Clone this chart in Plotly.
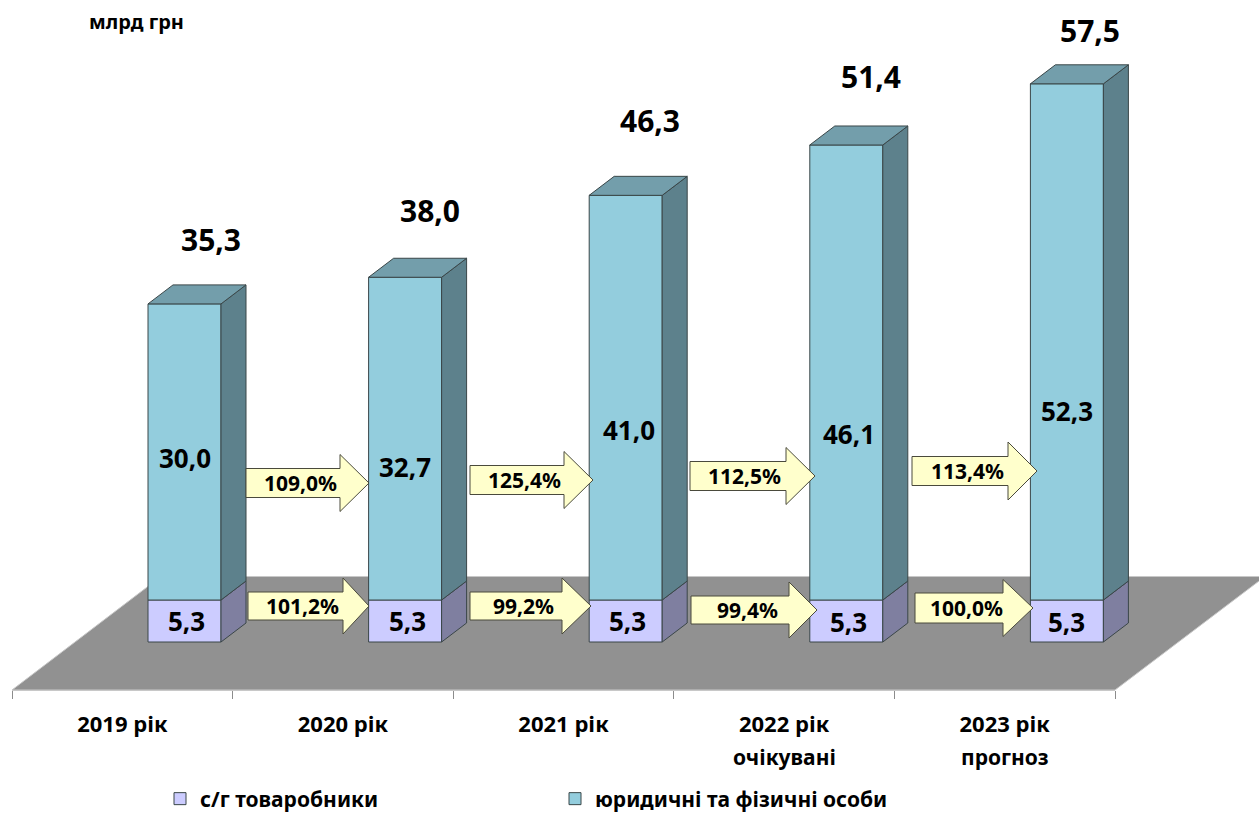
import plotly.graph_objects as go

W, H = 1259, 814
FONT = "Noto Sans"

# ---- data ----
categories = ["2019 рік", "2020 рік", "2021 рік", "2022 рік", "2023 рік"]
sublabels = ["", "", "", "очікувані", "прогноз"]
producers = [5.3, 5.3, 5.3, 5.3, 5.3]
entities = [30.0, 32.7, 41.0, 46.1, 52.3]
totals = [35.3, 38.0, 46.3, 51.4, 57.5]
growth_entities = ["109,0%", "125,4%", "112,5%", "113,4%"]
growth_producers = ["101,2%", "99,2%", "99,4%", "100,0%"]
series_names = ["с/г товаробники", "юридичні та фізичні особи"]
unit_label = "млрд грн"

# ---- styles / layout geometry (pixels) ----
PX_PER_CAT, PX_CENTER0, BAR_PX = 220.6, 184.5, 73
PX_PER_UNIT, PX_SPLIT = 9.87, 600
DEPTH_X, DEPTH_Y = 25, 19
AXIS_FLOOR = producers[0] - (642 - PX_SPLIT) / PX_PER_UNIT  # value at the bars' foot

C_BLUE, C_BLUE_SIDE, C_BLUE_TOP = "#93CDDD", "#5D818C", "#739EAB"
C_PUR, C_PUR_SIDE = "#CCCCFF", "#7F7FA0"
C_EDGE = "#3A4648"

total_shift = [(26, 64), (25, 67), (24, 75), (25, 68), (23, 53)]
entity_shift = [(0, -6), (0, -28), (3, -32), (3, -61), (0, -69)]
producer_shift = [(2, 0), (2, 0), (2, 0), (2, -1), (0, -1)]

# x0, tip, head base, centre y, shaft half, head half
arrows_upper = [(246, 369, 340, 483, 14.5, 28.5), (470, 593, 564, 480, 14.5, 28.5),
                (690, 815, 786, 476, 14.5, 28.5), (912, 1037, 1008, 471, 14.5, 29)]
arrows_lower = [(248, 369, 343, 606, 14, 28), (470, 591, 562, 606, 14, 28),
                (691, 817, 789, 610, 14, 28), (915, 1033, 1003, 608, 15, 28.5)]

dx = DEPTH_X / PX_PER_CAT
dy = DEPTH_Y / PX_PER_UNIT
hw = BAR_PX / PX_PER_CAT / 2
xs = list(range(len(categories)))
xrange_ = [-PX_CENTER0 / PX_PER_CAT, (W - PX_CENTER0) / PX_PER_CAT]
yref_split = producers[0]
yrange = [yref_split - (H - PX_SPLIT) / PX_PER_UNIT, yref_split + PX_SPLIT / PX_PER_UNIT]


def poly(points_per_bar):
    px, py = [], []
    for pts in points_per_bar:
        for a, b in pts + [pts[0]]:
            px.append(a)
            py.append(b)
        px.append(None)
        py.append(None)
    return px, py


side_pur, side_blue, top_blue = [], [], []
for i in xs:
    lo, mid, hi = AXIS_FLOOR, producers[i], producers[i] + entities[i]
    r = i + hw
    l = i - hw
    side_pur.append([(r, lo), (r + dx, lo + dy), (r + dx, mid + dy), (r, mid)])
    side_blue.append([(r, mid), (r + dx, mid + dy), (r + dx, hi + dy), (r, hi)])
    top_blue.append([(l, hi), (l + dx, hi + dy), (r + dx, hi + dy), (r, hi)])

fig = go.Figure()
for pts, col in ((side_pur, C_PUR_SIDE), (side_blue, C_BLUE_SIDE), (top_blue, C_BLUE_TOP)):
    px, py = poly(pts)
    fig.add_trace(go.Scatter(x=px, y=py, mode="lines", fill="toself", fillcolor=col,
                             line=dict(color=C_EDGE, width=1), showlegend=False, hoverinfo="skip"))

fig.add_trace(go.Bar(x=xs, y=[p - AXIS_FLOOR for p in producers], base=[AXIS_FLOOR] * 5,
                     width=2 * hw, name=series_names[0], marker=dict(color=C_PUR, line=dict(color=C_EDGE, width=1)),
                     cliponaxis=False))
fig.add_trace(go.Bar(x=xs, y=entities, base=producers, width=2 * hw, name=series_names[1],
                     marker=dict(color=C_BLUE, line=dict(color=C_EDGE, width=1)), cliponaxis=False))
# carries the category axis along the front edge of the floor
fig.add_trace(go.Scatter(x=categories, y=totals, xaxis="x2", yaxis="y", mode="markers",
                         marker=dict(opacity=0), showlegend=False, hoverinfo="skip"))


def fx(p):
    return p / W


def fy(p):
    return 1 - p / H


shapes = [dict(type="path", xref="paper", yref="paper", layer="below",
               path=f"M{fx(12)},{fy(690)} L{fx(1115)},{fy(690)} L{fx(1265)},{fy(576.5)} L{fx(161)},{fy(576.5)} Z",
               fillcolor="#919191", line=dict(color="#C8C8C8", width=1))]
annotations = []


def ann(text, size, **kw):
    annotations.append(dict(text=text, showarrow=False, xanchor="center", yanchor="middle",
                            font=dict(family=FONT, size=size, color="#000000", weight="bold"), **kw))


for (x0, tip, base, cy, sh, hh), lab in zip(arrows_upper + arrows_lower, growth_entities + growth_producers):
    pts = [(x0, cy - sh), (base, cy - sh), (base, cy - hh), (tip, cy), (base, cy + hh), (base, cy + sh), (x0, cy + sh)]
    path = "M" + " L".join(f"{fx(a)},{fy(b)}" for a, b in pts) + " Z"
    shapes.append(dict(type="path", xref="paper", yref="paper", layer="above", path=path,
                       fillcolor="#FFFFCC", line=dict(color="#4A4A3C", width=1)))
    ann(lab, 21, xref="paper", yref="paper", x=fx((x0 + base) / 2 + 7), y=fy(cy))

fmt = lambda v: f"{v:.1f}".replace(".", ",")
for i in xs:
    sx, sy = total_shift[i]
    ann(fmt(totals[i]), 30, xref="x", yref="y", x=i, y=producers[i] + entities[i], xshift=sx, yshift=sy)
    sx, sy = entity_shift[i]
    ann(fmt(entities[i]), 26, xref="x", yref="y", x=i, y=producers[i] + entities[i] / 2, xshift=sx, yshift=sy)
    sx, sy = producer_shift[i]
    ann(fmt(producers[i]), 26, xref="x", yref="y", x=i, y=(producers[i] + AXIS_FLOOR) / 2, xshift=sx, yshift=sy)
    if sublabels[i]:
        ann(sublabels[i], 21, xref="x2", yref="paper", x=categories[i], y=fy(757))

ann(unit_label, 20, xref="paper", yref="paper", x=fx(136), y=fy(22))

fig.update_layout(
    width=W, height=H, autosize=False,
    margin=dict(l=0, r=0, t=0, b=0, pad=0, autoexpand=False),
    paper_bgcolor="white", plot_bgcolor="rgba(0,0,0,0)",
    barmode="overlay", shapes=shapes, annotations=annotations,
    font=dict(family=FONT, color="#000000"),
    xaxis=dict(range=xrange_, domain=[0, 1], visible=False, fixedrange=True),
    yaxis=dict(range=yrange, domain=[0, 1], visible=False, fixedrange=True),
    xaxis2=dict(type="category", categoryorder="array", categoryarray=categories, range=[-0.5, 4.5],
                domain=[fx(12), fx(1115)], anchor="free", position=fy(690), side="bottom",
                showline=True, linecolor="#C8C8C8", linewidth=1,
                ticks="outside", ticklen=8, tickcolor="#8C8C8C", tickwidth=1, tickson="boundaries",
                showgrid=False, ticklabelstandoff=15,
                tickfont=dict(family=FONT, size=22, color="#000000", weight="bold"), fixedrange=True),
    legend=dict(orientation="h", x=fx(160), xanchor="left", y=fy(799), yanchor="middle",
                entrywidth=350, entrywidthmode="pixels", itemwidth=30, traceorder="normal",
                font=dict(family=FONT, size=21, color="#000000", weight="bold"),
                bgcolor="rgba(0,0,0,0)"),
    showlegend=True,
)

fig.write_html("out.html", config=dict(displayModeBar=False),
               post_script="document.body.style.margin='0';document.documentElement.style.overflow='hidden';")
